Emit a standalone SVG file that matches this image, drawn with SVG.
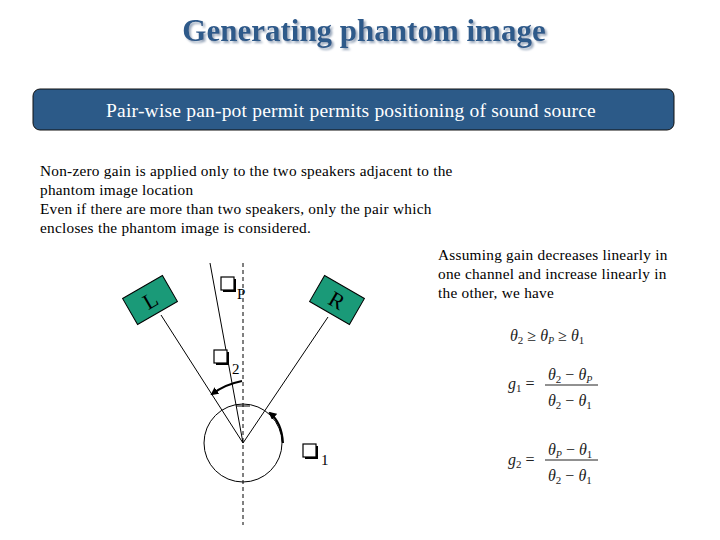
<svg xmlns="http://www.w3.org/2000/svg" width="720" height="540" viewBox="0 0 720 540">
<style>
text{font-family:"Liberation Serif","Times New Roman","DejaVu Serif",serif}
.t{font-size:15.3px;letter-spacing:0.25px;fill:#000}
.mi{font-size:16px;font-style:italic;fill:#222}
.ln{stroke:#000;stroke-width:1;fill:none}
.sp{fill:#1a9a78;stroke:#000;stroke-width:1}
.q{fill:#fff;stroke:#000;stroke-width:1.2}
</style>
<defs>
<marker id="ah" markerWidth="8" markerHeight="8" refX="6" refY="4" orient="auto" markerUnits="userSpaceOnUse"><path d="M0,0 L8,4 L0,8 Z" fill="#000"/></marker>
<filter id="sh" x="-5%" y="-20%" width="110%" height="140%"><feDropShadow dx="2" dy="2" stdDeviation="0.8" flood-color="#9aa8bc"/></filter>
</defs>
<rect width="720" height="540" fill="#fff"/>
<g id="title">
<text x="364" y="41" text-anchor="middle" font-weight="bold" font-size="31" fill="#2f5a8a" filter="url(#sh)">Generating phantom image</text>
</g>
<g id="banner">
<rect x="33" y="89" width="641" height="41" rx="7" fill="#2c5a88" stroke="#111" stroke-width="1"/>
<text x="351" y="117" text-anchor="middle" font-size="19.5" letter-spacing="0.2" fill="#fff">Pair-wise pan-pot permit permits positioning of sound source</text>
</g>
<g id="desc">
<text x="40" y="176" class="t">Non-zero gain is applied only to the two speakers adjacent to the</text>
<text x="40" y="195" class="t">phantom image location</text>
<text x="40" y="214" class="t">Even if there are more than two speakers, only the pair which</text>
<text x="40" y="233" class="t">encloses the phantom image is considered.</text>
<text x="438" y="260" class="t">Assuming gain decreases linearly in</text>
<text x="438" y="279" class="t">one channel and increase linearly in</text>
<text x="438" y="298" class="t">the other, we have</text>
</g>
<g id="connectors">
<line x1="243" y1="263" x2="243" y2="525" class="ln" stroke-dasharray="4,3"/>
<circle cx="243" cy="443" r="39" class="ln"/>
<line x1="161" y1="315" x2="243" y2="443" class="ln"/>
<line x1="328" y1="317" x2="243" y2="443" class="ln"/>
<line x1="210" y1="263" x2="243" y2="443" class="ln"/>
<line x1="236" y1="406" x2="250" y2="406" class="ln"/>
<path d="M242,381 Q226,384 212,394" fill="none" stroke="#000" stroke-width="2" marker-end="url(#ah)"/>
<path d="M283,443 Q282,423 270,413" fill="none" stroke="#000" stroke-width="2" marker-end="url(#ah)"/>
</g>
<g id="L"><g transform="translate(150,300) rotate(-30)"><rect x="-23" y="-15" width="46" height="30" class="sp"/><text x="0" y="8" text-anchor="middle" font-size="22">L</text></g></g>
<g id="R"><g transform="translate(337,300) rotate(30)"><rect x="-23" y="-15" width="46" height="30" class="sp"/><text x="0" y="8" text-anchor="middle" font-size="22">R</text></g></g>
<g id="thetaP"><rect x="223" y="279" width="13" height="13" fill="#000"/><rect x="221" y="277" width="13" height="13" class="q"/><text x="237" y="299" font-size="15">P</text></g>
<g id="theta2"><rect x="216" y="352" width="13" height="13" fill="#000"/><rect x="214" y="350" width="13" height="13" class="q"/><text x="232" y="374" font-size="15">2</text></g>
<g id="theta1"><rect x="305" y="446" width="13" height="13" fill="#000"/><rect x="303" y="444" width="13" height="13" class="q"/><text x="321" y="465" font-size="15">1</text></g>
<g id="formulas">
<text x="510" y="341" class="mi">θ<tspan font-size="11" dy="3" font-style="normal">2</tspan><tspan dy="-3" font-style="normal"> ≥ </tspan>θ<tspan font-size="10" dy="3">P</tspan><tspan dy="-3" font-style="normal"> ≥ </tspan>θ<tspan font-size="11" dy="3" font-style="normal">1</tspan></text>
<text x="508" y="389" class="mi">g<tspan font-size="11" dy="3" font-style="normal">1</tspan><tspan dy="-3" font-style="normal"> =</tspan></text>
<text x="548" y="380" class="mi">θ<tspan font-size="11" dy="3" font-style="normal">2</tspan><tspan dy="-3" font-style="normal"> − </tspan>θ<tspan font-size="10" dy="3">P</tspan></text>
<line x1="545" y1="385" x2="598" y2="385" stroke="#222" stroke-width="1"/>
<text x="548" y="406" class="mi">θ<tspan font-size="11" dy="3" font-style="normal">2</tspan><tspan dy="-3" font-style="normal"> − </tspan>θ<tspan font-size="11" dy="3" font-style="normal">1</tspan></text>
<text x="508" y="465" class="mi">g<tspan font-size="11" dy="3" font-style="normal">2</tspan><tspan dy="-3" font-style="normal"> =</tspan></text>
<text x="548" y="455" class="mi">θ<tspan font-size="10" dy="3">P</tspan><tspan dy="-3" font-style="normal"> − </tspan>θ<tspan font-size="11" dy="3" font-style="normal">1</tspan></text>
<line x1="545" y1="460" x2="598" y2="460" stroke="#222" stroke-width="1"/>
<text x="548" y="481" class="mi">θ<tspan font-size="11" dy="3" font-style="normal">2</tspan><tspan dy="-3" font-style="normal"> − </tspan>θ<tspan font-size="11" dy="3" font-style="normal">1</tspan></text>
</g>
</svg>
